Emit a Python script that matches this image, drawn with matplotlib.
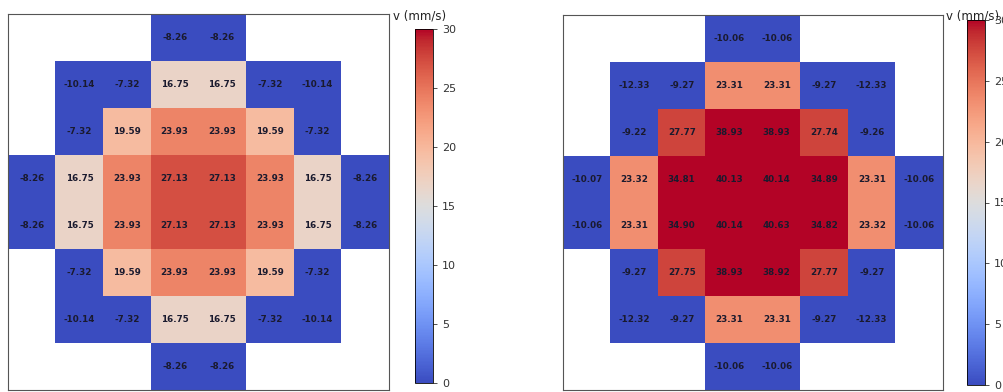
import numpy as np
import matplotlib
matplotlib.use('Agg')
import matplotlib.pyplot as plt

nan = np.nan

# velocity maps (mm/s), 8x8 grid, nan = no cell
v_left = [
    [nan, nan, nan, -8.26, -8.26, nan, nan, nan],
    [nan, -10.14, -7.32, 16.75, 16.75, -7.32, -10.14, nan],
    [nan, -7.32, 19.59, 23.93, 23.93, 19.59, -7.32, nan],
    [-8.26, 16.75, 23.93, 27.13, 27.13, 23.93, 16.75, -8.26],
    [-8.26, 16.75, 23.93, 27.13, 27.13, 23.93, 16.75, -8.26],
    [nan, -7.32, 19.59, 23.93, 23.93, 19.59, -7.32, nan],
    [nan, -10.14, -7.32, 16.75, 16.75, -7.32, -10.14, nan],
    [nan, nan, nan, -8.26, -8.26, nan, nan, nan],
]

v_right = [
    [nan, nan, nan, -10.06, -10.06, nan, nan, nan],
    [nan, -12.33, -9.27, 23.31, 23.31, -9.27, -12.33, nan],
    [nan, -9.22, 27.77, 38.93, 38.93, 27.74, -9.26, nan],
    [-10.07, 23.32, 34.81, 40.13, 40.14, 34.89, 23.31, -10.06],
    [-10.06, 23.31, 34.90, 40.14, 40.63, 34.82, 23.32, -10.06],
    [nan, -9.27, 27.75, 38.93, 38.92, 27.77, -9.27, nan],
    [nan, -12.32, -9.27, 23.31, 23.31, -9.27, -12.33, nan],
    [nan, nan, nan, -10.06, -10.06, nan, nan, nan],
]

cbar_ticks = [0, 5, 10, 15, 20, 25, 30]

W, H = 1004, 392
fig = plt.figure(figsize=(W / 100, H / 100), dpi=100)

cmap = plt.get_cmap('coolwarm').copy()
cmap.set_bad('white')


def panel(data, ax_box, cb_box, label_x):
    ax = fig.add_axes([ax_box[0] / W, 1 - (ax_box[1] + ax_box[3]) / H,
                       ax_box[2] / W, ax_box[3] / H])
    arr = np.ma.masked_invalid(np.array(data, dtype=float))
    im = ax.imshow(arr, cmap=cmap, vmin=0, vmax=30, aspect='auto',
                   interpolation='nearest')
    for i in range(arr.shape[0]):
        for j in range(arr.shape[1]):
            val = data[i][j]
            if not np.isnan(val):
                ax.text(j, i, f'{val:.2f}', ha='center', va='center',
                        fontsize=6.3, fontweight='bold', color='#1a1a2e')
    ax.set_xticks([])
    ax.set_yticks([])
    for s in ax.spines.values():
        s.set_color('#555555')
        s.set_linewidth(0.8)

    cax = fig.add_axes([cb_box[0] / W, 1 - (cb_box[1] + cb_box[3]) / H,
                        cb_box[2] / W, cb_box[3] / H])
    cb = fig.colorbar(im, cax=cax, ticks=cbar_ticks)
    cb.ax.tick_params(labelsize=8, length=3, width=0.6, colors='#333333')
    cb.outline.set_linewidth(0.6)
    fig.text(label_x / W, 1 - 16 / H, 'v (mm/s)', fontsize=8.5,
             ha='left', va='center', color='#222222')


panel(v_left, (8, 14, 381, 376), (415, 29, 18, 354), 393)
panel(v_right, (563, 15, 380, 375), (967, 20, 18, 365), 946)

fig.savefig('out.png', dpi=100)
